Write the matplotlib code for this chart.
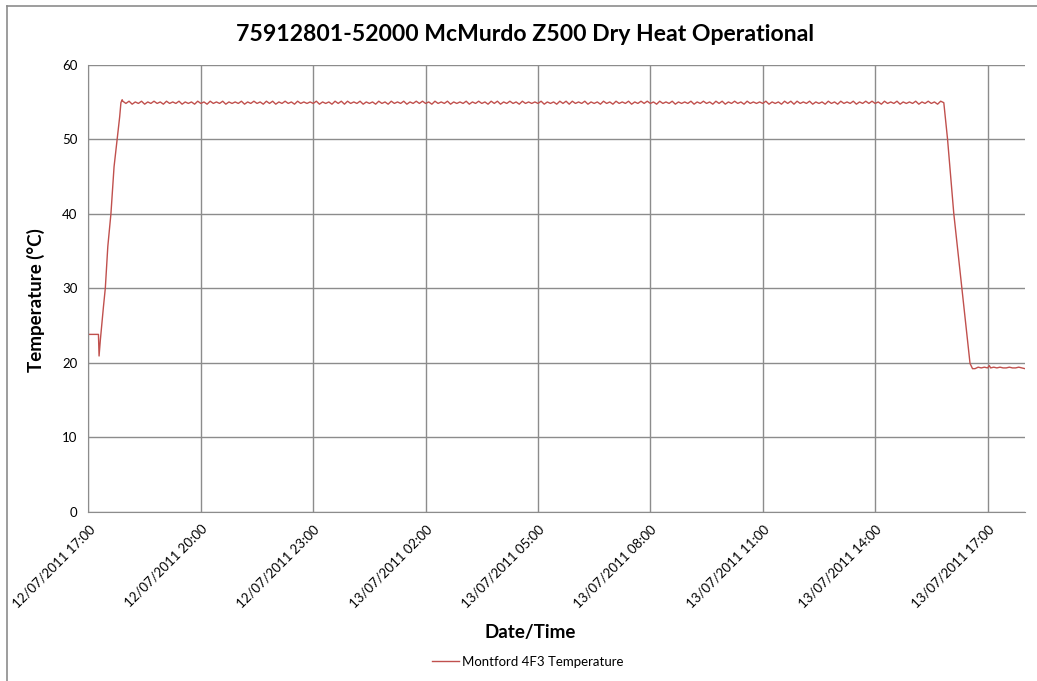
import numpy as np
import pandas as pd
import matplotlib
matplotlib.use("Agg")
import matplotlib.pyplot as plt
import matplotlib.dates as mdates
from matplotlib.lines import Line2D

plt.rcParams['font.family'] = ['Lato', 'DejaVu Sans']

start = pd.Timestamp("2011-07-12 17:00")

# warm-up ramp: minutes after start, temperature
rise_min = [0, 8, 16, 17, 19, 21, 24, 27, 31, 36, 41, 46, 50, 52, 54]
rise_temp = [23.8, 23.8, 23.8, 20.9, 23.0, 24.8, 27.5, 30.0, 35.6, 40.0, 46.3, 50.0, 53.0, 54.9, 55.3]

# dwell at 55 C, one reading every 5 min from 55 min (one row per hour)
dwell_start = 55
dwell_temp = [
    55.1, 54.8, 55.1, 54.7, 55.0, 54.8, 55.1, 54.7, 55.0, 54.8, 55.1, 54.8,
    55.0, 54.7, 55.1, 54.8, 55.0, 54.8, 55.1, 54.7, 55.0, 54.8, 55.0, 54.7,
    55.1, 54.8, 55.0, 54.7, 55.1, 54.8, 55.0, 54.8, 55.1, 54.7, 55.0, 54.8,
    55.0, 54.8, 55.1, 54.7, 55.0, 54.8, 55.1, 54.8, 55.0, 54.7, 55.1, 54.8,
    55.1, 54.7, 55.0, 54.8, 55.1, 54.8, 55.0, 54.7, 55.1, 54.8, 55.0, 54.8,
    55.0, 54.8, 55.1, 54.7, 55.0, 54.8, 55.0, 54.7, 55.1, 54.8, 55.1, 54.7,
    55.1, 54.8, 55.0, 54.8, 55.1, 54.7, 55.0, 54.8, 55.0, 54.7, 55.1, 54.8,
    55.0, 54.7, 55.1, 54.8, 55.0, 54.8, 55.1, 54.7, 55.0, 54.8, 55.1, 54.8,
    55.1, 54.8, 55.0, 54.7, 55.1, 54.8, 55.0, 54.8, 55.1, 54.7, 55.0, 54.8,
    55.0, 54.8, 55.1, 54.7, 55.0, 54.8, 55.1, 54.8, 55.0, 54.7, 55.1, 54.8,
    55.1, 54.7, 55.0, 54.8, 55.1, 54.8, 55.0, 54.7, 55.1, 54.8, 55.0, 54.8,
    55.0, 54.8, 55.1, 54.7, 55.0, 54.8, 55.0, 54.7, 55.1, 54.8, 55.1, 54.7,
    55.1, 54.8, 55.0, 54.8, 55.1, 54.7, 55.0, 54.8, 55.0, 54.7, 55.1, 54.8,
    55.0, 54.7, 55.1, 54.8, 55.0, 54.8, 55.1, 54.7, 55.0, 54.8, 55.1, 54.8,
    55.1, 54.8, 55.0, 54.7, 55.1, 54.8, 55.0, 54.8, 55.1, 54.7, 55.0, 54.8,
    55.0, 54.8, 55.1, 54.7, 55.0, 54.8, 55.1, 54.8, 55.0, 54.7, 55.1, 54.8,
    55.1, 54.7, 55.0, 54.8, 55.1, 54.8, 55.0, 54.7, 55.1, 54.8, 55.0, 54.8,
    55.0, 54.8, 55.1, 54.7, 55.0, 54.8, 55.0, 54.7, 55.1, 54.8, 55.1, 54.7,
    55.1, 54.8, 55.0, 54.8, 55.1, 54.7, 55.0, 54.8, 55.0, 54.7, 55.1, 54.8,
    55.0, 54.7, 55.1, 54.8, 55.0, 54.8, 55.1, 54.7, 55.0, 54.8, 55.1, 54.8,
    55.1, 54.8, 55.0, 54.7, 55.1, 54.8, 55.0, 54.8, 55.1, 54.7, 55.0, 54.8,
    55.0, 54.8, 55.1, 54.7, 55.0, 54.8, 55.1, 54.8, 55.0, 54.7, 55.1, 54.9,
]

# cool-down ramp and recovery
fall_min = [1376, 1386, 1399, 1412, 1416, 1420, 1425, 1430, 1435, 1440, 1443, 1445,
            1450, 1455, 1460, 1465, 1470, 1475, 1480, 1485, 1490, 1495, 1500]
fall_temp = [50.0, 40.0, 30.0, 19.9, 19.2, 19.2, 19.4, 19.3, 19.4, 19.3, 19.6, 19.3,
             19.4, 19.3, 19.4, 19.3, 19.3, 19.4, 19.3, 19.3, 19.4, 19.3, 19.2]

dwell_min = dwell_start + 5 * np.arange(len(dwell_temp))
minutes = np.concatenate([rise_min, dwell_min, fall_min])
temps = np.concatenate([rise_temp, dwell_temp, fall_temp])
times = start + pd.to_timedelta(minutes, unit="min")

fig = plt.figure(figsize=(10.37, 6.81), dpi=100)
ax = fig.add_axes([0.0853, 0.2486, 0.9031, 0.6564])

ax.plot(times, temps, color='#C0504D', lw=1)

ax.set_ylim(0, 60)
ax.set_yticks(range(0, 61, 10))
ax.set_xlim(start, start + pd.Timedelta(hours=25))
ax.xaxis.set_major_locator(mdates.HourLocator(byhour=[17, 20, 23, 2, 5, 8, 11, 14]))
ax.xaxis.set_major_formatter(mdates.DateFormatter('%d/%m/%Y %H:%M'))

ax.grid(True, color='#8c8c8c', lw=1)
ax.set_axisbelow(True)
for s in ['top', 'right']:
    ax.spines[s].set_visible(False)
for s in ['left', 'bottom']:
    ax.spines[s].set_color('#8c8c8c')
ax.tick_params(length=0, labelsize=9.5, pad=8)
for lbl in ax.get_xticklabels():
    lbl.set_rotation(45)
    lbl.set_ha('right')
    lbl.set_va('top')
    lbl.set_rotation_mode('anchor')

fig.text(0.506, 0.950, '75912801-52000 McMurdo Z500 Dry Heat Operational',
         ha='center', va='center', fontsize=16.6, fontweight='bold')
fig.text(0.035, 0.56, 'Temperature (°C)', rotation=90, ha='center', va='center',
         fontsize=13.5, fontweight='bold')
fig.text(0.511, 0.071, 'Date/Time', ha='center', va='center', fontsize=13.5, fontweight='bold')

handle = Line2D([], [], color='#C0504D', lw=1)
fig.legend([handle], ['Montford 4F3 Temperature'], loc='center', bbox_to_anchor=(0.509, 0.028),
           frameon=False, fontsize=9.5, handlelength=2.0, handletextpad=0.25)

# partial outer frame as in the export
fig.add_artist(Line2D([7 / 1037, 7 / 1037], [0, 1 - 6 / 681], color='#8c8c8c', lw=1.2))
fig.add_artist(Line2D([7 / 1037, 1], [1 - 6 / 681, 1 - 6 / 681], color='#8c8c8c', lw=1.2))

fig.savefig('out.png', dpi=100)
